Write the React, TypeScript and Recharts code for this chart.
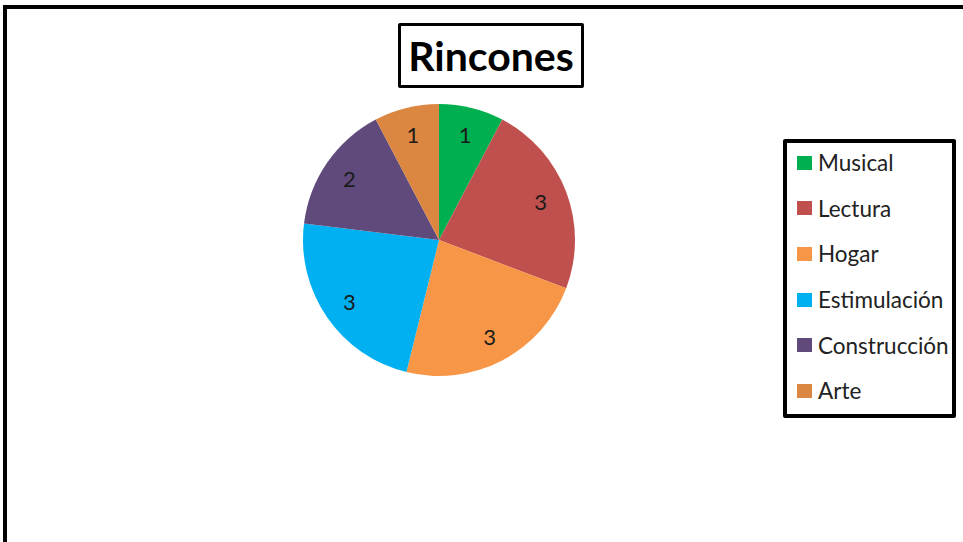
import React from "react";
import { PieChart, Pie, Cell, Legend } from "recharts";

const categories = ["Musical", "Lectura", "Hogar", "Estimulación", "Construcción", "Arte"];
const values = [1, 3, 3, 3, 2, 1];
const colors = ["#00B050", "#C0504D", "#F79646", "#00B0F0", "#604A7B", "#DB8641"];

const data = categories.map((name, i) => ({ name, value: values[i] }));

const RAD = Math.PI / 180;

const renderLabel = (props: any) => {
  const { cx, cy, midAngle, outerRadius, value } = props;
  const r = outerRadius * 0.8;
  const x = cx + r * Math.cos(-midAngle * RAD);
  const y = cy + r * Math.sin(-midAngle * RAD);
  return (
    <text
      x={x}
      y={y}
      fill="#1a1a1a"
      fontFamily="Lato, 'Open Sans', sans-serif"
      fontSize={22}
      textAnchor="middle"
      dominantBaseline="central"
    >
      {value}
    </text>
  );
};

const LegendContent = (props: any) => {
  const payload = [...(props.payload || [])].sort(
    (a: any, b: any) => categories.indexOf(a.value) - categories.indexOf(b.value)
  );
  return (
    <div
      style={{
        boxSizing: "border-box",
        width: 173,
        height: 279,
        border: "4px solid #000",
        borderRadius: 2,
        background: "#fff",
        paddingLeft: 10,
        overflow: "hidden",
      }}
    >
      <div style={{ position: "relative", top: -3 }}>
        {payload.map((entry: any, i: number) => (
          <div
            key={i}
            style={{
              display: "flex",
              alignItems: "center",
              height: 45.6,
              fontFamily: "Lato, 'Open Sans', sans-serif",
              fontSize: 22.5,
              color: "#222",
              whiteSpace: "nowrap",
            }}
          >
            <span
              style={{
                display: "inline-block",
                width: 15,
                height: 14,
                background: entry.color,
                marginRight: 6,
                flexShrink: 0,
              }}
            />
            <span>{entry.value}</span>
          </div>
        ))}
      </div>
    </div>
  );
};

export default function App() {
  return (
    <div
      style={{
        position: "absolute",
        left: 0,
        top: 0,
        width: 963,
        height: 542,
        background: "#fff",
        overflow: "hidden",
      }}
    >
      <div
        style={{
          position: "absolute",
          left: 3,
          top: 5,
          width: 1000,
          height: 600,
          borderTop: "4px solid #000",
          borderLeft: "4px solid #000",
          boxSizing: "border-box",
        }}
      />
      <div
        style={{
          position: "absolute",
          left: 398,
          top: 23,
          width: 186,
          height: 65,
          boxSizing: "border-box",
          border: "3px solid #000",
          borderRadius: 2,
          display: "flex",
          alignItems: "center",
          justifyContent: "center",
          fontFamily: "Lato, 'Open Sans', sans-serif",
          fontWeight: 700,
          fontSize: 41,
          color: "#000",
        }}
      >
        Rincones
      </div>
      <PieChart width={963} height={542} margin={{ top: 0, right: 0, bottom: 0, left: 0 }} style={{ position: "absolute", left: 0, top: 0 }}>
        <Pie
          data={data}
          dataKey="value"
          nameKey="name"
          cx={439}
          cy={240}
          outerRadius={136}
          startAngle={90}
          endAngle={-270}
          stroke="none"
          label={renderLabel}
          labelLine={false}
          isAnimationActive={false}
        >
          {data.map((d, i) => (
            <Cell key={d.name} fill={colors[i]} />
          ))}
        </Pie>
        <Legend
          content={<LegendContent />}
          wrapperStyle={{ position: "absolute", left: 783, top: 139, width: 173, height: 279 }}
        />
      </PieChart>
    </div>
  );
}
